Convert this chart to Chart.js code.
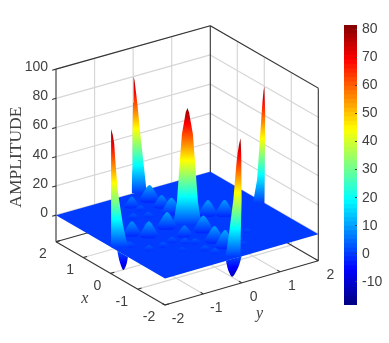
<!DOCTYPE html>
<html>
<head>
<meta charset="utf-8">
<style>
  html, body { margin: 0; padding: 0; background: #fff; overflow: hidden; }
  #wrap { position: relative; width: 389px; height: 343px; }
  #surfaceChart { position: absolute; left: 0; top: 0; }
  #barChart { position: absolute; left: 340px; top: 0; }
</style>
<script src="https://cdn.jsdelivr.net/npm/chart.js@4/dist/chart.umd.min.js"></script>
</head>
<body>
<div id="wrap">
  <canvas id="surfaceChart" width="389" height="343"></canvas>
  <canvas id="barChart" width="49" height="343"></canvas>
</div>
<script>
// ─── Data ─────────────────────────────────────────────────────────────────────
const xTicks = [2, 1, 0, -1, -2];
const yTicks = [-2, -1, 0, 1, 2];
const zTicks = [0, 20, 40, 60, 80, 100];
const colorTicks = [-10, 0, 10, 20, 30, 40, 50, 60, 70, 80];

// five tall spikes, widths are half widths at each level of spikeLevels
const spikeLevels = [0, 5, 16, 39, 62, 71, 77, 80];
const spikeX = [2, 0, 0, -0.03, -2];
const spikeY = [0.02, 2, 0, -2, -0.03];
const spikeTop = [80, 80, 80, 81, 81];
const spikeLeft = [
  [0.04, 0.035, 0.03, 0.025, 0.015, 0.01, 0.005, 0],
  [0.2, 0.175, 0.125, 0.085, 0.045, 0.028, 0.012, 0],
  [0.27, 0.226, 0.183, 0.14, 0.096, 0.056, 0.03, 0],
  [0.005, 0.005, 0.005, 0.005, 0.005, 0.005, 0.003, 0],
  [0.27, 0.24, 0.2, 0.125, 0.075, 0.05, 0.025, 0]
];
const spikeRight = [
  [0.23, 0.21, 0.18, 0.115, 0.058, 0.03, 0.012, 0],
  [0, 0, 0.003, 0.012, 0.015, 0.01, 0.005, 0],
  [0.27, 0.226, 0.183, 0.14, 0.096, 0.056, 0.03, 0],
  [0.31, 0.26, 0.2, 0.11, 0.065, 0.05, 0.025, 0],
  [0, 0, 0.005, 0.02, 0.02, 0.012, 0.006, 0]
];

// small bumps on the flat part
const bumpX = [1.54, 1.12, 0.73, 1.48, 0.3, 0.03, 0.17, -0.39, -0.42, 0.22, 0.02, -1, -1.36,
  -0.2, -0.58, -0.61, -0.72, -0.85, -1.26, -0.51, -1.01, -1.51, 1.22, 0.84, 0.96,
  -0.8, -1.3, -0.5, -1, -1.5, 0.45, 0.85, 1.25, 0.5, 1, 0.45, 1.45];
const bumpY = [0.1, 0.12, 0.1, -0.4, -1.23, -0.98, -0.41, -0.35, 0.12, 0.69, 0.98, 0, 0.02,
  -1.64, -1.41, -1.06, -0.57, -0.4, -0.43, -0.76, -0.85, -0.35, -0.36, -0.42, -0.73,
  0.45, 0.45, 0.85, 0.85, 0.4, 0.45, 0.42, 0.4, 0.8, 0.8, -0.75, -0.75];
const bumpZ = [10, 7.5, 10, 6.5, 8.5, 9.5, 10, 6.5, 10, 9.5, 9.5, 10, 11,
  3, 3, 3, 3, 3, 3, 3, 2, 3, 3, 3, 3,
  2, 2, 2, 2, 2, 2, 2, 2, 2, 2, 2, 2];
const bumpW = [0.19, 0.16, 0.19, 0.14, 0.17, 0.18, 0.19, 0.15, 0.19, 0.18, 0.18, 0.19, 0.19,
  0.12, 0.12, 0.12, 0.12, 0.12, 0.12, 0.12, 0.11, 0.12, 0.12, 0.12, 0.12,
  0.1, 0.1, 0.1, 0.1, 0.1, 0.1, 0.1, 0.1, 0.1, 0.1, 0.1, 0.1];
const bumpLevel = [0, 0.12, 0.3, 0.55, 0.8, 0.95, 1];
const bumpWidth = [1, 0.86, 0.7, 0.5, 0.3, 0.12, 0];

// wells hanging under the front edges: along-edge start, tip, end and depth
const wellFrom = [[-0.25, -2], [-2, -0.41]];
const wellTip = [[-0.47, -2], [-2, -0.244]];
const wellTo = [[-0.64, -2], [-2, 0]];
const wellDepth = [-10.8, -12.1];

// MATLAB jet
const jetStops = [
  [0, [0, 0, 128]], [0.125, [0, 0, 255]], [0.375, [0, 255, 255]],
  [0.625, [255, 255, 0]], [0.875, [255, 0, 0]], [1, [128, 0, 0]]
];
const COLOR_MIN = -18.3, COLOR_MAX = 81.6, COLOR_STEPS = 64;
const Z_MIN = -18.2, Z_MAX = 100;

// ─── View ─────────────────────────────────────────────────────────────────────
function project(x, y, z) {
  const u = (x + 2) / 4, v = (y + 2) / 4;
  return {
    x: 165 - 109 * u + 153.3 * v + u * v,
    y: 305 - 63.3 * u - 44.3 * v - (z - Z_MIN) * 1.46 + 0.9 * u * v
  };
}

function jetAt(t) {
  for (let i = 1; i < jetStops.length; i++) {
    if (t <= jetStops[i][0]) {
      const [t0, c0] = jetStops[i - 1], [t1, c1] = jetStops[i];
      const f = (t - t0) / (t1 - t0);
      return `rgb(${c0.map((c, k) => Math.round(c + (c1[k] - c) * f)).join(',')})`;
    }
  }
  return 'rgb(128,0,0)';
}

const jetForZ = z => jetAt((z - COLOR_MIN) / (COLOR_MAX - COLOR_MIN));

// shade by height, measured at one spot of the floor
function heightFill(x, y) {
  return ctx => {
    const { chart } = ctx;
    if (!chart.chartArea) return 'rgba(0,0,0,0)';
    const sy = chart.scales.y;
    const g = chart.ctx.createLinearGradient(0, sy.getPixelForValue(project(x, y, COLOR_MIN).y), 0, sy.getPixelForValue(project(x, y, COLOR_MAX).y));
    jetStops.forEach(([t, c]) => g.addColorStop(t, `rgb(${c.join(',')})`));
    return g;
  };
}

const line3d = (a, b, color, width) => ({
  data: [project(...a), project(...b)],
  showLine: true, pointRadius: 0, borderColor: color, borderWidth: width, fill: false
});

const shape = (points, fillStyle, tension = 0) => ({
  data: points, showLine: true, pointRadius: 0, borderWidth: 0, tension, fill: 'shape', backgroundColor: fillStyle
});

// ─── Datasets ─────────────────────────────────────────────────────────────────
const GRID = '#d6d6d6', AXIS = '#333333';
const datasets = [];

function addGrid() {
  zTicks.forEach(z => {
    datasets.push(line3d([2, -2, z], [2, 2, z], GRID, 1.2));
    datasets.push(line3d([2, 2, z], [-2, 2, z], GRID, 1.2));
  });
  [-1, 0, 1].forEach(t => {
    datasets.push(line3d([2, t, Z_MIN], [2, t, Z_MAX], GRID, 1.2));
    datasets.push(line3d([t, 2, Z_MIN], [t, 2, Z_MAX], GRID, 1.2));
    datasets.push(line3d([t, -2, Z_MIN], [t, 2, Z_MIN], GRID, 1.2));
    datasets.push(line3d([-2, t, Z_MIN], [2, t, Z_MIN], GRID, 1.2));
  });
}

function addBox() {
  const edges = [
    [[2, -2, Z_MAX], [2, 2, Z_MAX]], [[2, 2, Z_MAX], [-2, 2, Z_MAX]],
    [[2, 2, Z_MIN], [2, 2, Z_MAX]], [[-2, 2, Z_MIN], [-2, 2, Z_MAX]],
    [[2, -2, Z_MIN], [2, -2, Z_MAX]], [[2, -2, Z_MIN], [-2, -2, Z_MIN]],
    [[-2, -2, Z_MIN], [-2, 2, Z_MIN]], [[2, -2, Z_MIN], [2, 2, Z_MIN]],
    [[-2, 2, Z_MIN], [2, 2, Z_MIN]]
  ];
  edges.forEach(([a, b]) => datasets.push(line3d(a, b, AXIS, 1.1)));
  zTicks.forEach(z => datasets.push(line3d([2, -2, z], [2, -2.1, z], AXIS, 1.1)));
  xTicks.forEach(x => datasets.push(line3d([x, -2, Z_MIN], [x, -1.9, Z_MIN], AXIS, 1.1)));
  yTicks.forEach(y => datasets.push(line3d([-2, y, Z_MIN], [-1.9, y, Z_MIN], AXIS, 1.1)));
}

function addWells() {
  wellDepth.forEach((depth, i) => {
    const [x0, y0] = wellFrom[i], [xt, yt] = wellTip[i], [x1, y1] = wellTo[i];
    const pts = [
      project(x0, y0, 0),
      project(x0 * 0.65 + xt * 0.35, y0 * 0.65 + yt * 0.35, depth * 0.55),
      project(xt, yt, depth),
      project(x1 * 0.65 + xt * 0.35, y1 * 0.65 + yt * 0.35, depth * 0.55),
      project(x1, y1, 0)
    ];
    datasets.push(shape(pts, heightFill(xt, yt), 0.3));
  });
}

function addPlane() {
  const plane = [project(2, -2, 0), project(2, 2, 0), project(-2, 2, 0), project(-2, -2, 0), project(2, -2, 0)];
  datasets.push(shape(plane, jetForZ(0)));
}

// sideways on screen: 1 unit of s is x - 0.7, y + 1
const side = (x, y, s, z) => project(x - 0.7 * s, y + s, z);

function spikeShape(i) {
  const x = spikeX[i], y = spikeY[i];
  const levels = spikeLevels.map(z => (z === 80 ? spikeTop[i] : z));
  const left = levels.map((z, k) => side(x, y, -spikeLeft[i][k], z));
  const right = levels.map((z, k) => side(x, y, spikeRight[i][k], z)).reverse();
  return { depth: x + y, ds: shape([...left, ...right.slice(1), left[0]], heightFill(x, y), 0) };
}

function bumpShape(i) {
  const x = bumpX[i], y = bumpY[i], z = bumpZ[i], w = bumpW[i];
  const left = bumpLevel.map((f, k) => side(x, y, -w * bumpWidth[k], z * f));
  const right = bumpLevel.map((f, k) => side(x, y, w * bumpWidth[k], z * f)).reverse();
  const front = project(x - w * 0.6, y - w * 0.6, 0);
  return { depth: x + y, ds: shape([...left, ...right.slice(1), front, left[0]], heightFill(x, y), 0.3) };
}

// darker dip on the floor around a bump
function dipShape(i) {
  const x = bumpX[i], y = bumpY[i], r = bumpW[i] * 1.1;
  const ring = [
    project(x - r, y, 0), project(x, y - r, 0), project(x + r, y, 0), project(x, y + r, 0), project(x - r, y, 0)
  ];
  return { depth: x + y + 0.001, ds: shape(ring, jetForZ(-2), 0.4) };
}

function addSurface() {
  const shapes = [...spikeX.map((_, i) => spikeShape(i)), ...bumpX.map((_, i) => bumpShape(i))];
  bumpZ.forEach((z, i) => { if (z >= 6) shapes.push(dipShape(i)); });
  shapes.sort((a, b) => b.depth - a.depth);
  shapes.forEach(s => datasets.push(s.ds));
}

addGrid();
addBox();
addWells();
addPlane();
addSurface();
datasets.forEach((d, i) => { d.order = -i; });

// ─── Text ─────────────────────────────────────────────────────────────────────
const TEXT = '#404040';
const labelPlugin = {
  id: 'labels3d',
  afterDatasetsDraw(chart) {
    const { ctx, scales } = chart;
    const at = (p, dx, dy) => [scales.x.getPixelForValue(p.x) + dx, scales.y.getPixelForValue(p.y) + dy];
    ctx.save();
    ctx.fillStyle = TEXT;
    ctx.textBaseline = 'middle';

    ctx.font = '14px "Liberation Sans", Arial, sans-serif';
    ctx.textAlign = 'right';
    zTicks.forEach(z => ctx.fillText(String(z), ...at(project(2, -2, z), -8, -2)));
    ctx.textAlign = 'center';
    xTicks.forEach(x => ctx.fillText(String(x), ...at(project(x, -2, Z_MIN), x < 0 ? -16 : -13, 12.5)));
    yTicks.forEach(y => ctx.fillText(String(y), ...at(project(-2, y, Z_MIN), y < 0 ? 13 : 12, 14)));

    ctx.font = 'italic 16px "Liberation Serif", serif';
    ctx.fillText('x', ...at(project(0.1, -2, Z_MIN), -23, 27));
    ctx.fillText('y', ...at(project(-2, 0.1, Z_MIN), 14, 32));

    ctx.font = '17.5px "Liberation Serif", serif';
    const [tx, ty] = at(project(2, -2, 50), -40, 15);
    ctx.translate(tx, ty);
    ctx.rotate(-Math.PI / 2);
    ctx.fillText('AMPLITUDE', 0, 0);
    ctx.restore();
  }
};

new Chart(document.getElementById('surfaceChart'), {
  type: 'scatter',
  data: { datasets },
  options: {
    responsive: false,
    animation: false,
    events: [],
    layout: { padding: 0 },
    plugins: { legend: { display: false }, tooltip: { enabled: false } },
    scales: {
      x: { type: 'linear', min: 0, max: 389, display: false },
      y: { type: 'linear', min: 0, max: 343, reverse: true, display: false }
    }
  },
  plugins: [labelPlugin]
});

// ─── Colorbar ─────────────────────────────────────────────────────────────────
const stepSize = (COLOR_MAX - COLOR_MIN) / COLOR_STEPS;
const barSets = Array.from({ length: COLOR_STEPS }, (_, i) => ({
  data: [[COLOR_MIN + i * stepSize, COLOR_MIN + (i + 1) * stepSize + 0.05]],
  backgroundColor: jetAt((i + 0.5) / COLOR_STEPS),
  borderWidth: 0,
  barPercentage: 1,
  categoryPercentage: 1,
  grouped: false
}));

new Chart(document.getElementById('barChart'), {
  type: 'bar',
  data: { labels: ['c'], datasets: barSets },
  options: {
    responsive: false,
    animation: false,
    events: [],
    layout: { padding: { left: 4, top: 25, bottom: 38, right: 0 } },
    plugins: { legend: { display: false }, tooltip: { enabled: false } },
    scales: {
      x: { display: false },
      y: {
        position: 'right',
        min: COLOR_MIN,
        max: COLOR_MAX,
        afterBuildTicks: axis => { axis.ticks = colorTicks.map(value => ({ value })); },
        afterFit: axis => { axis.width = 32; },
        border: { display: false },
        grid: { drawOnChartArea: false, drawTicks: true, tickLength: -2, tickColor: '#404040', z: 1 },
        ticks: { color: TEXT, padding: 7, autoSkip: false, font: { size: 14, family: '"Liberation Sans", Arial, sans-serif' } }
      }
    }
  }
});
</script>
</body>
</html>
